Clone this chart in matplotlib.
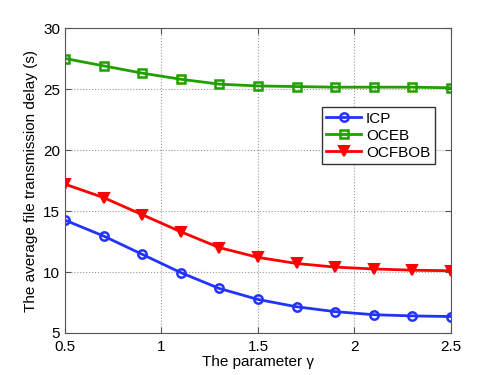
import matplotlib
matplotlib.use('Agg')
import matplotlib.pyplot as plt

plt.rcParams['font.family'] = ['Liberation Sans', 'DejaVu Sans']

gamma = [0.5, 0.7, 0.9, 1.1, 1.3, 1.5, 1.7, 1.9, 2.1, 2.3, 2.5]
icp = [14.25, 12.95, 11.45, 9.95, 8.65, 7.75, 7.15, 6.75, 6.5, 6.4, 6.35]
oceb = [27.5, 26.9, 26.3, 25.8, 25.4, 25.25, 25.2, 25.15, 25.15, 25.15, 25.1]
ocfbob = [17.2, 16.1, 14.7, 13.3, 12.0, 11.2, 10.7, 10.4, 10.25, 10.15, 10.1]

fig = plt.figure(figsize=(4.98, 3.75), dpi=100)
ax = fig.add_axes([0.1305, 0.112, 0.775, 0.8133])

ax.plot(gamma, icp, '-o', color='#2233ff', lw=2, ms=6, mfc='none', mew=1.8, label='ICP')
ax.plot(gamma, oceb, '-s', color='#1fa000', lw=2, ms=6, mfc='none', mew=1.8, label='OCEB')
ax.plot(gamma, ocfbob, '-v', color='#ff0000', lw=2, ms=7, mfc='#ff0000', mew=1.5, label='OCFBOB')

ax.set_xlim(0.5, 2.5)
ax.set_ylim(5, 30)
ax.set_xticks([0.5, 1, 1.5, 2, 2.5])
ax.set_xticklabels(['0.5', '1', '1.5', '2', '2.5'])
ax.set_yticks([5, 10, 15, 20, 25, 30])
ax.grid(True, linestyle=':', color='#999999', lw=0.8)
ax.tick_params(direction='in', top=True, right=True, labelsize=11, length=4, color='#555555')
ax.tick_params(axis='x', pad=5)
for s in ax.spines.values():
    s.set_color('#555555')

ax.set_xlabel('The parameter γ', fontsize=11, labelpad=1)
ax.set_ylabel('The average file transmission delay (s)', fontsize=11, labelpad=4)

leg = ax.legend(loc='upper right', bbox_to_anchor=(0.958, 0.741), fontsize=11,
                fancybox=False, framealpha=1, edgecolor='#333333',
                handlelength=2.3, borderpad=0.3, labelspacing=0.2, handletextpad=0.3,
                borderaxespad=0)

fig.savefig('out.png', dpi=100)
